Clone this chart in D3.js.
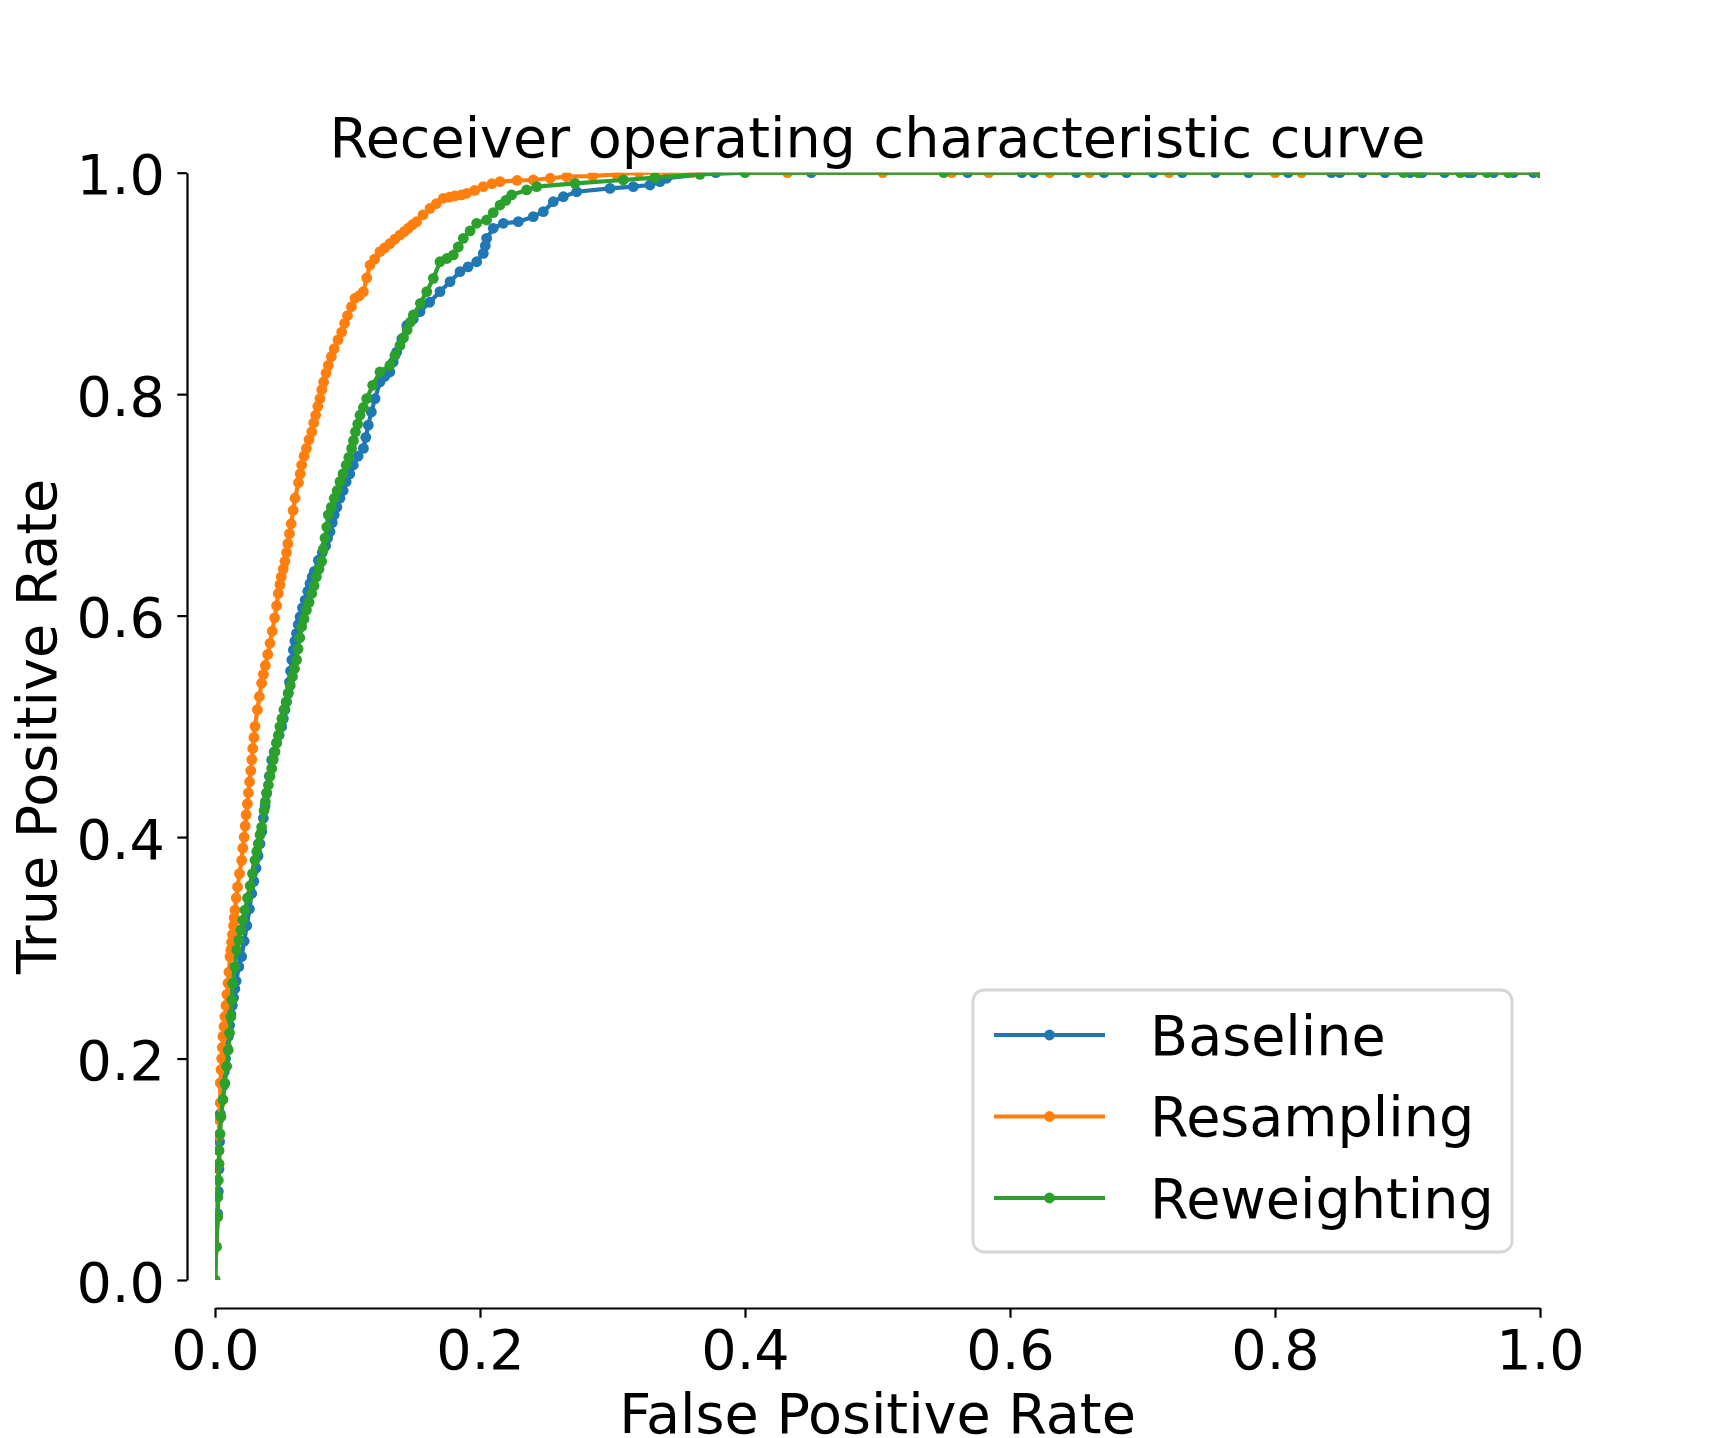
<!DOCTYPE html>
<html>
<head>
<meta charset="utf-8">
<script src="https://cdn.jsdelivr.net/npm/d3@7"></script>
<style>
  html, body { margin: 0; padding: 0; background: #fff; }
  svg { display: block; font-family: "DejaVu Sans", sans-serif; }
</style>
</head>
<body>
<div id="chart"></div>
<script>
// ROC curves, three training strategies. Points are [fpr, tpr].

const seriesNames  = ['Baseline', 'Resampling', 'Reweighting'];
const seriesColors = ['#1f77b4', '#ff7f0e', '#2ca02c'];
const tickValues   = [0, 0.2, 0.4, 0.6, 0.8, 1.0];

const baselinePoints = [
  [0,0],[0.001,0.03],[0.002,0.06],[0.0025,0.08],[0.003,0.1],[0.0035,0.125],[0.004,0.15],[0.006,0.175],
  [0.007,0.188],[0.008,0.2],[0.009,0.21],[0.01,0.22],[0.011,0.23],[0.012,0.24],[0.013,0.248],[0.014,0.255],
  [0.015,0.263],[0.016,0.27],[0.018,0.283],[0.0201,0.292],[0.022,0.306],[0.024,0.32],[0.026,0.335],[0.0277,0.349],
  [0.0293,0.36],[0.031,0.372],[0.0325,0.383],[0.034,0.394],[0.0353,0.405],[0.0365,0.417],[0.0378,0.428],[0.039,0.4395],
  [0.041,0.455],[0.0428,0.4696],[0.0447,0.477],[0.0465,0.485],[0.0484,0.492],[0.0503,0.4997],[0.0516,0.507],[0.0528,0.515],
  [0.054,0.522],[0.0553,0.5298],[0.0562,0.54],[0.057,0.55],[0.058,0.56],[0.0591,0.569],[0.0603,0.577],[0.0615,0.584],
  [0.0628,0.592],[0.0642,0.599],[0.066,0.607],[0.068,0.614],[0.07,0.622],[0.0717,0.629],[0.0733,0.635],[0.075,0.64],
  [0.078,0.65],[0.081,0.657],[0.0835,0.663],[0.085,0.67],[0.0868,0.676],[0.0885,0.684],[0.09,0.691],[0.092,0.698],
  [0.0943,0.706],[0.0967,0.713],[0.099,0.721],[0.1017,0.728],[0.1044,0.736],[0.108,0.744],[0.112,0.751],[0.1138,0.761],
  [0.1157,0.772],[0.118,0.784],[0.1208,0.796],[0.1245,0.811],[0.128,0.816],[0.132,0.82],[0.1345,0.829],[0.1371,0.838],
  [0.141,0.85],[0.1447,0.862],[0.1497,0.868],[0.1547,0.8745],[0.162,0.883],[0.1698,0.8926],[0.1774,0.9016],[0.1849,0.9106],
  [0.191,0.915],[0.1975,0.9196],[0.2025,0.9272],[0.204,0.934],[0.205,0.9407],[0.21,0.9498],[0.2176,0.9543],[0.2289,0.9558],
  [0.2402,0.9603],[0.2478,0.9648],[0.2553,0.9738],[0.2629,0.9783],[0.273,0.9828],[0.2981,0.9858],[0.3157,0.9874],[0.3283,0.9889],
  [0.3358,0.9919],[0.3409,0.995],[0.378,1],[0.45,1],[0.568,1],[0.609,1],[0.618,1],[0.65,1],[0.671,1],[0.688,1],
  [0.708,1],[0.73,1],[0.755,1],[0.78,1],[0.81,1],[0.8426,1],[0.849,1],[0.866,1],[0.883,1],[0.902,1],[0.911,1],
  [0.928,1],[0.946,1],[0.949,1],[0.965,1],[0.98,1],[0.995,1],[1,1]
];

const resamplingPoints = [
  [0,0],[0.001,0.03],[0.002,0.057],[0.002,0.075],[0.002,0.09],[0.003,0.105],[0.003,0.117],[0.003,0.13],
  [0.003,0.145],[0.004,0.16],[0.004,0.178],[0.0045,0.19],[0.005,0.2],[0.0055,0.21],[0.006,0.22],[0.0068,0.229],
  [0.0075,0.238],[0.0083,0.248],[0.009,0.258],[0.0098,0.268],[0.0105,0.278],[0.0113,0.292],[0.0119,0.298],[0.0125,0.305],
  [0.0132,0.312],[0.014,0.32],[0.0145,0.327],[0.0151,0.334],[0.016,0.345],[0.017,0.355],[0.0185,0.367],[0.0201,0.379],
  [0.021,0.39],[0.022,0.4],[0.0228,0.41],[0.0235,0.42],[0.0244,0.43],[0.0252,0.44],[0.0261,0.45],[0.027,0.46],
  [0.0278,0.47],[0.0285,0.48],[0.0294,0.49],[0.0302,0.5],[0.032,0.515],[0.0335,0.527],[0.0352,0.539],[0.0365,0.547],
  [0.038,0.555],[0.0398,0.565],[0.0415,0.575],[0.0432,0.586],[0.045,0.598],[0.0465,0.609],[0.0478,0.62],[0.049,0.628],
  [0.05,0.635],[0.0515,0.642],[0.0528,0.649],[0.054,0.657],[0.055,0.665],[0.0562,0.674],[0.0575,0.683],[0.059,0.695],
  [0.0604,0.706],[0.063,0.72],[0.0643,0.728],[0.0654,0.736],[0.0672,0.744],[0.069,0.751],[0.071,0.759],[0.073,0.766],
  [0.0745,0.774],[0.076,0.781],[0.0776,0.789],[0.0792,0.796],[0.0806,0.804],[0.082,0.811],[0.0838,0.819],[0.0855,0.826],
  [0.0878,0.834],[0.09,0.841],[0.0928,0.849],[0.0956,0.856],[0.0978,0.864],[0.1,0.871],[0.103,0.879],[0.1057,0.8866],
  [0.109,0.889],[0.112,0.8926],[0.1145,0.905],[0.117,0.9166],[0.1205,0.922],[0.1245,0.9287],[0.128,0.932],[0.132,0.936],
  [0.1358,0.94],[0.1396,0.9437],[0.143,0.947],[0.146,0.95],[0.149,0.953],[0.1522,0.9557],[0.157,0.962],[0.1623,0.9678],
  [0.167,0.972],[0.1723,0.9769],[0.177,0.978],[0.181,0.979],[0.186,0.98],[0.19,0.9814],[0.196,0.984],[0.2025,0.9874],
  [0.209,0.99],[0.2151,0.9919],[0.228,0.993],[0.2402,0.9934],[0.253,0.995],[0.2654,0.9964],[0.285,0.997],[0.303,0.9985],
  [0.32,1],[0.36,1],[0.432,1],[0.504,1],[0.556,1],[0.584,1],[0.63,1],[0.66,1],[0.72,1],[0.8,1],[0.82,1],[1,1]
];

const reweightingPoints = [
  [0,0],[0.001,0.03],[0.002,0.057],[0.0022,0.075],[0.0025,0.09],[0.003,0.105],[0.003,0.117],[0.0038,0.132],
  [0.0045,0.1475],[0.006,0.163],[0.0075,0.1776],[0.0088,0.193],[0.01,0.2077],[0.011,0.223],[0.012,0.2378],[0.0127,0.253],
  [0.0133,0.268],[0.015,0.283],[0.0164,0.298],[0.018,0.307],[0.0195,0.316],[0.021,0.325],[0.0226,0.334],[0.0245,0.345],
  [0.0265,0.356],[0.0283,0.367],[0.0302,0.379],[0.0315,0.387],[0.0327,0.394],[0.034,0.402],[0.0352,0.409],[0.037,0.424],
  [0.038,0.432],[0.039,0.44],[0.0403,0.447],[0.0415,0.455],[0.0428,0.462],[0.044,0.47],[0.0453,0.477],[0.0465,0.485],
  [0.0478,0.492],[0.049,0.4997],[0.0505,0.507],[0.052,0.515],[0.0537,0.522],[0.0553,0.53],[0.0568,0.537],[0.0585,0.545],
  [0.06,0.552],[0.0616,0.56],[0.0627,0.57],[0.064,0.58],[0.0654,0.59],[0.0672,0.597],[0.069,0.605],[0.071,0.612],
  [0.073,0.62],[0.0748,0.627],[0.0765,0.635],[0.0785,0.642],[0.0805,0.649],[0.0818,0.66],[0.083,0.67],[0.0843,0.68],
  [0.0855,0.691],[0.0878,0.698],[0.09,0.706],[0.0922,0.713],[0.0943,0.721],[0.0966,0.728],[0.099,0.736],[0.101,0.743],
  [0.1031,0.751],[0.1045,0.758],[0.106,0.766],[0.1077,0.773],[0.1094,0.781],[0.112,0.788],[0.1145,0.796],[0.119,0.808],
  [0.1245,0.82],[0.132,0.826],[0.1358,0.835],[0.1396,0.844],[0.1423,0.851],[0.145,0.858],[0.1474,0.865],[0.1497,0.8715],
  [0.155,0.882],[0.1598,0.8926],[0.1648,0.9046],[0.1698,0.9196],[0.175,0.9225],[0.1799,0.9257],[0.1836,0.933],[0.1874,0.9407],
  [0.1925,0.9475],[0.1975,0.9543],[0.205,0.9573],[0.21,0.964],[0.2151,0.9708],[0.2195,0.975],[0.2239,0.9799],[0.2352,0.9844],
  [0.2428,0.9874],[0.2717,0.9904],[0.3082,0.9934],[0.332,0.9955],[0.366,0.9985],[0.4,1],[0.55,1],[0.897,1],
  [0.908,1],[0.94,1],[0.96,1],[0.976,1],[1,1]
];

const seriesData = [baselinePoints, resamplingPoints, reweightingPoints];

// ── Layout (matplotlib at 200 dpi, despined with offset) ─────────────────
const W = 1716, H = 1438;
const plot = { left: 215, right: 1540, top: 172.7, bottom: 1280 };
const spineOffset = 28;
const tickLen = 9.7;
const fontPx = 55.6;
const lineW = 4.2, dotR = 5.4;

const x = d3.scaleLinear().domain([0, 1]).range([plot.left, plot.right]);
const y = d3.scaleLinear().domain([0, 1]).range([plot.bottom, plot.top]);

const svg = d3.select('#chart').append('svg')
  .attr('width', W).attr('height', H)
  .attr('viewBox', `0 0 ${W} ${H}`);

svg.append('rect').attr('width', W).attr('height', H).attr('fill', '#fff');

svg.append('defs').append('clipPath').attr('id', 'plot-clip')
  .append('rect')
  .attr('x', plot.left).attr('y', plot.top)
  .attr('width', plot.right - plot.left).attr('height', plot.bottom - plot.top);

// ── Curves ───────────────────────────────────────────────────────────────
const gCurves = svg.append('g').attr('clip-path', 'url(#plot-clip)');
const line = d3.line().x(d => x(d[0])).y(d => y(d[1]));

seriesData.forEach((pts, i) => {
  const g = gCurves.append('g');
  g.append('path')
    .attr('d', line(pts))
    .attr('fill', 'none')
    .attr('stroke', seriesColors[i])
    .attr('stroke-width', lineW)
    .attr('stroke-linejoin', 'round')
    .attr('stroke-linecap', 'round');
  g.selectAll('circle').data(pts).join('circle')
    .attr('cx', d => x(d[0]))
    .attr('cy', d => y(d[1]))
    .attr('r', dotR)
    .attr('fill', seriesColors[i]);
});

// ── Axes (offset spines, trimmed to the data range) ─────────────────────
const fmt = d3.format('.1f');

const xAxis = d3.axisBottom(x).tickValues(tickValues).tickFormat(fmt)
  .tickSize(tickLen).tickSizeOuter(0).tickPadding(9.7);
const gx = svg.append('g')
  .attr('transform', `translate(0,${plot.bottom + spineOffset})`)
  .call(xAxis);

const yAxis = d3.axisLeft(y).tickValues(tickValues).tickFormat(fmt)
  .tickSize(tickLen).tickSizeOuter(0).tickPadding(9.7);
const gy = svg.append('g')
  .attr('transform', `translate(${plot.left - spineOffset},0)`)
  .call(yAxis);

[gx, gy].forEach(g => {
  g.select('.domain').attr('stroke', '#000').attr('stroke-width', 2.2);
  g.selectAll('.tick line').attr('stroke', '#000').attr('stroke-width', 2.2);
  g.selectAll('.tick text')
    .attr('fill', '#000')
    .attr('font-family', '"DejaVu Sans", sans-serif')
    .attr('font-size', fontPx);
});
gx.selectAll('.tick text').attr('dy', null).attr('y', 0)
  .attr('transform', `translate(0,${tickLen + 9.7 + 42})`);
gy.selectAll('.tick text').attr('dy', null).attr('y', 21).attr('x', -(tickLen + 12.5));

// ── Titles ───────────────────────────────────────────────────────────────
const cx = (plot.left + plot.right) / 2;
const cy = (plot.top + plot.bottom) / 2;

svg.append('text')
  .attr('x', cx).attr('y', 156.5)
  .attr('text-anchor', 'middle')
  .attr('font-size', fontPx)
  .text('Receiver operating characteristic curve');

svg.append('text')
  .attr('x', cx).attr('y', 1433)
  .attr('text-anchor', 'middle')
  .attr('font-size', fontPx)
  .text('False Positive Rate');

svg.append('text')
  .attr('transform', `translate(56,${cy}) rotate(-90)`)
  .attr('text-anchor', 'middle')
  .attr('font-size', fontPx)
  .text('True Positive Rate');

// ── Legend ───────────────────────────────────────────────────────────────
const legend = { left: 973, top: 990, right: 1512, bottom: 1252 };
const gLeg = svg.append('g');
gLeg.append('rect')
  .attr('x', legend.left).attr('y', legend.top)
  .attr('width', legend.right - legend.left)
  .attr('height', legend.bottom - legend.top)
  .attr('rx', 11).attr('ry', 11)
  .attr('fill', '#fff').attr('fill-opacity', 0.8)
  .attr('stroke', '#d6d6d6').attr('stroke-width', 2.8);

const rowY = d3.scalePoint().domain(seriesNames).range([1035, 1198]);
const handle = { x0: 994, x1: 1105 };

seriesNames.forEach((name, i) => {
  const ry = rowY(name);
  gLeg.append('line')
    .attr('x1', handle.x0).attr('x2', handle.x1)
    .attr('y1', ry).attr('y2', ry)
    .attr('stroke', seriesColors[i]).attr('stroke-width', lineW);
  gLeg.append('circle')
    .attr('cx', (handle.x0 + handle.x1) / 2).attr('cy', ry)
    .attr('r', dotR).attr('fill', seriesColors[i]);
  gLeg.append('text')
    .attr('x', 1150).attr('y', ry + 19.5)
    .attr('font-size', fontPx)
    .text(name);
});
</script>
</body>
</html>
